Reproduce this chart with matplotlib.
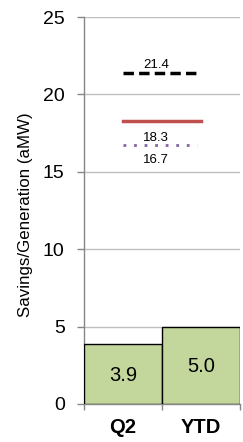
import matplotlib
matplotlib.use("Agg")
import matplotlib.pyplot as plt

plt.rcParams['font.family'] = ['Liberation Sans', 'DejaVu Sans']

categories = ["Q2", "YTD"]
savings = [3.9, 5.0]
ref_values = [21.4, 18.3, 16.7]
yticks = [0, 5, 10, 15, 20, 25]

fig = plt.figure(figsize=(2.43, 4.42), dpi=100)
ax = fig.add_axes([0.346, 0.086, 0.642, 0.8755])

x = list(range(len(categories)))
ax.bar(x, savings, width=1.0, color="#C3D69B", edgecolor="black", linewidth=1.0, zorder=3)
for xi, v in zip(x, savings):
    ax.text(xi, v / 2 - 0.1, f"{v:.1f}", ha="center", va="center", fontsize=14.5, zorder=4)

# reference lines
ax.plot([0, 1], [ref_values[0]] * 2, color="black", linestyle=(0, (3, 1.5)), linewidth=2.5, zorder=3)
ax.plot([0, 1], [ref_values[1]] * 2, color="#C0504D", linewidth=2.5, zorder=3)
ax.plot([0, 0.95], [ref_values[2]] * 2, color="#8064A2", linestyle=(0, (1, 2.8)), linewidth=2, zorder=3)
ax.text(0.42, ref_values[0] + 0.3, f"{ref_values[0]:.1f}", ha="center", va="baseline", fontsize=9.5)
ax.text(0.42, ref_values[1] - 1.3, f"{ref_values[1]:.1f}", ha="center", va="baseline", fontsize=9.5)
ax.text(0.42, ref_values[2] - 1.14, f"{ref_values[2]:.1f}", ha="center", va="baseline", fontsize=9.5)

ax.set_xlim(-0.5, 1.5)
ax.set_ylim(0, 25)
ax.set_yticks(yticks)
ax.set_yticklabels([str(t) for t in yticks], fontsize=14)
ax.yaxis.grid(True, color="#C0C0C0", linewidth=1, zorder=0)
ax.set_axisbelow(True)

ax.set_xticks([-0.5, 0.5, 1.5], minor=False)
ax.set_xticklabels([])
ax.set_xticks(x, minor=True)
ax.set_xticklabels(categories, minor=True, fontsize=14.5, fontweight="bold")
ax.tick_params(axis="x", which="major", length=4, color="#868686", width=1, direction="out")
ax.tick_params(axis="x", which="minor", length=0, pad=10)
ax.tick_params(axis="y", length=5, color="#868686", width=1, pad=9)

for s in ["top", "right"]:
    ax.spines[s].set_visible(False)
for s in ["left", "bottom"]:
    ax.spines[s].set_color("#868686")
    ax.spines[s].set_linewidth(1)

ax.set_ylabel("Savings/Generation (aMW)", fontsize=12.2)
ax.yaxis.set_label_coords(-0.327, 0.488)

fig.savefig("out.png", dpi=100)
